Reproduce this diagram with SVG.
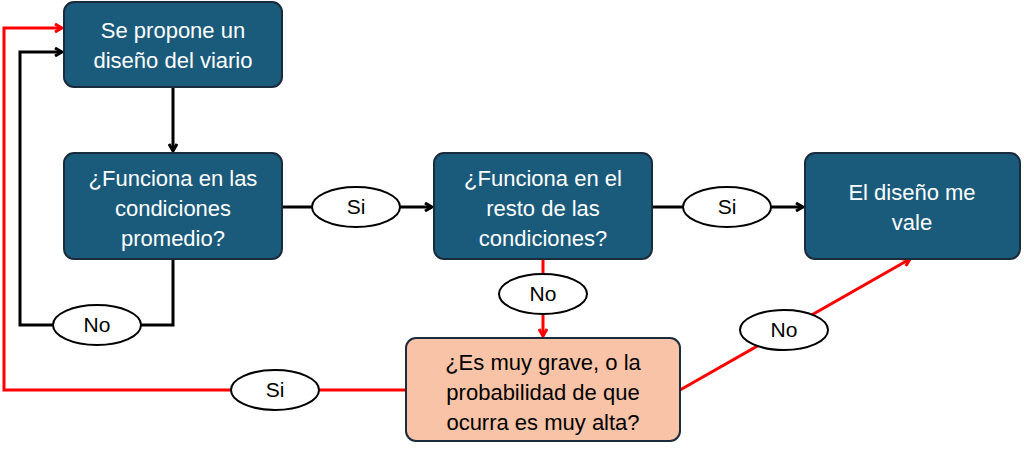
<svg xmlns="http://www.w3.org/2000/svg" width="1024" height="454" viewBox="0 0 1024 454">
<defs>
<marker id="ab" markerWidth="10" markerHeight="10" refX="8" refY="5" orient="auto" markerUnits="userSpaceOnUse"><path d="M1,1 L8,5 L1,9" fill="none" stroke="#000" stroke-width="3"/></marker>
<marker id="ar" markerWidth="10" markerHeight="10" refX="8" refY="5" orient="auto" markerUnits="userSpaceOnUse"><path d="M1,1 L8,5 L1,9" fill="none" stroke="#f00" stroke-width="3"/></marker>
<style>
.n{fill:#1a5b7c;stroke:#1b2b3b;stroke-width:2}
.o{fill:#f8c3a6;stroke:#1b2b3b;stroke-width:2}
.t{font-family:"Liberation Sans",Arial,sans-serif;font-size:22px;fill:#fff;text-anchor:middle}
.d{fill:#000}
.e{fill:#fff;stroke:#000;stroke-width:2}
.l{font-family:"Liberation Sans",Arial,sans-serif;font-size:21px;fill:#000;text-anchor:middle}
.k{fill:none;stroke:#000;stroke-width:3}
.r{fill:none;stroke:#f00;stroke-width:3}
</style>
</defs>
<g id="connectors">
<path class="k" d="M173,87 V151" marker-end="url(#ab)"/>
<path class="k" d="M282,207 H432" marker-end="url(#ab)"/>
<path class="k" d="M652,207 H803" marker-end="url(#ab)"/>
<path class="k" d="M173,259 V325 H20 V52 H62" marker-end="url(#ab)"/>
<path class="r" d="M543,259 V336" marker-end="url(#ar)"/>
<path class="r" d="M406,390 H4 V28 H62" marker-end="url(#ar)"/>
<path class="r" d="M680,390 L910,259" marker-end="url(#ar)"/>
<ellipse class="e" cx="356" cy="207" rx="44" ry="20"/><text class="l" x="356" y="214">Si</text>
<ellipse class="e" cx="727" cy="207" rx="44" ry="20"/><text class="l" x="727" y="214">Si</text>
<ellipse class="e" cx="97" cy="325" rx="44" ry="20"/><text class="l" x="97" y="332">No</text>
<ellipse class="e" cx="543" cy="294" rx="44" ry="20"/><text class="l" x="543" y="301">No</text>
<ellipse class="e" cx="275" cy="390" rx="44" ry="20"/><text class="l" x="275" y="397">Si</text>
<ellipse class="e" cx="784" cy="330" rx="44" ry="20"/><text class="l" x="784" y="337">No</text>
</g>
<g id="n1"><rect class="n" x="64" y="2" width="218" height="85" rx="10"/><text class="t" x="173" y="38">Se propone un</text><text class="t" x="173" y="68">diseño del viario</text></g>
<g id="n2"><rect class="n" x="64" y="153" width="218" height="106" rx="10"/><text class="t" x="173" y="186">¿Funciona en las</text><text class="t" x="173" y="216">condiciones</text><text class="t" x="173" y="246">promedio?</text></g>
<g id="n3"><rect class="n" x="434" y="153" width="218" height="106" rx="10"/><text class="t" x="543" y="186">¿Funciona en el</text><text class="t" x="543" y="216">resto de las</text><text class="t" x="543" y="246">condiciones?</text></g>
<g id="n4"><rect class="n" x="805" y="153" width="215" height="106" rx="10"/><text class="t" x="912" y="200">El diseño me</text><text class="t" x="912" y="230">vale</text></g>
<g id="n5"><rect class="o" x="406" y="338" width="274" height="103" rx="10"/><text class="t" style="fill:#000" x="543" y="370">¿Es muy grave, o la</text><text class="t" style="fill:#000" x="543" y="400">probabilidad de que</text><text class="t" style="fill:#000" x="543" y="430">ocurra es muy alta?</text></g>
</svg>
